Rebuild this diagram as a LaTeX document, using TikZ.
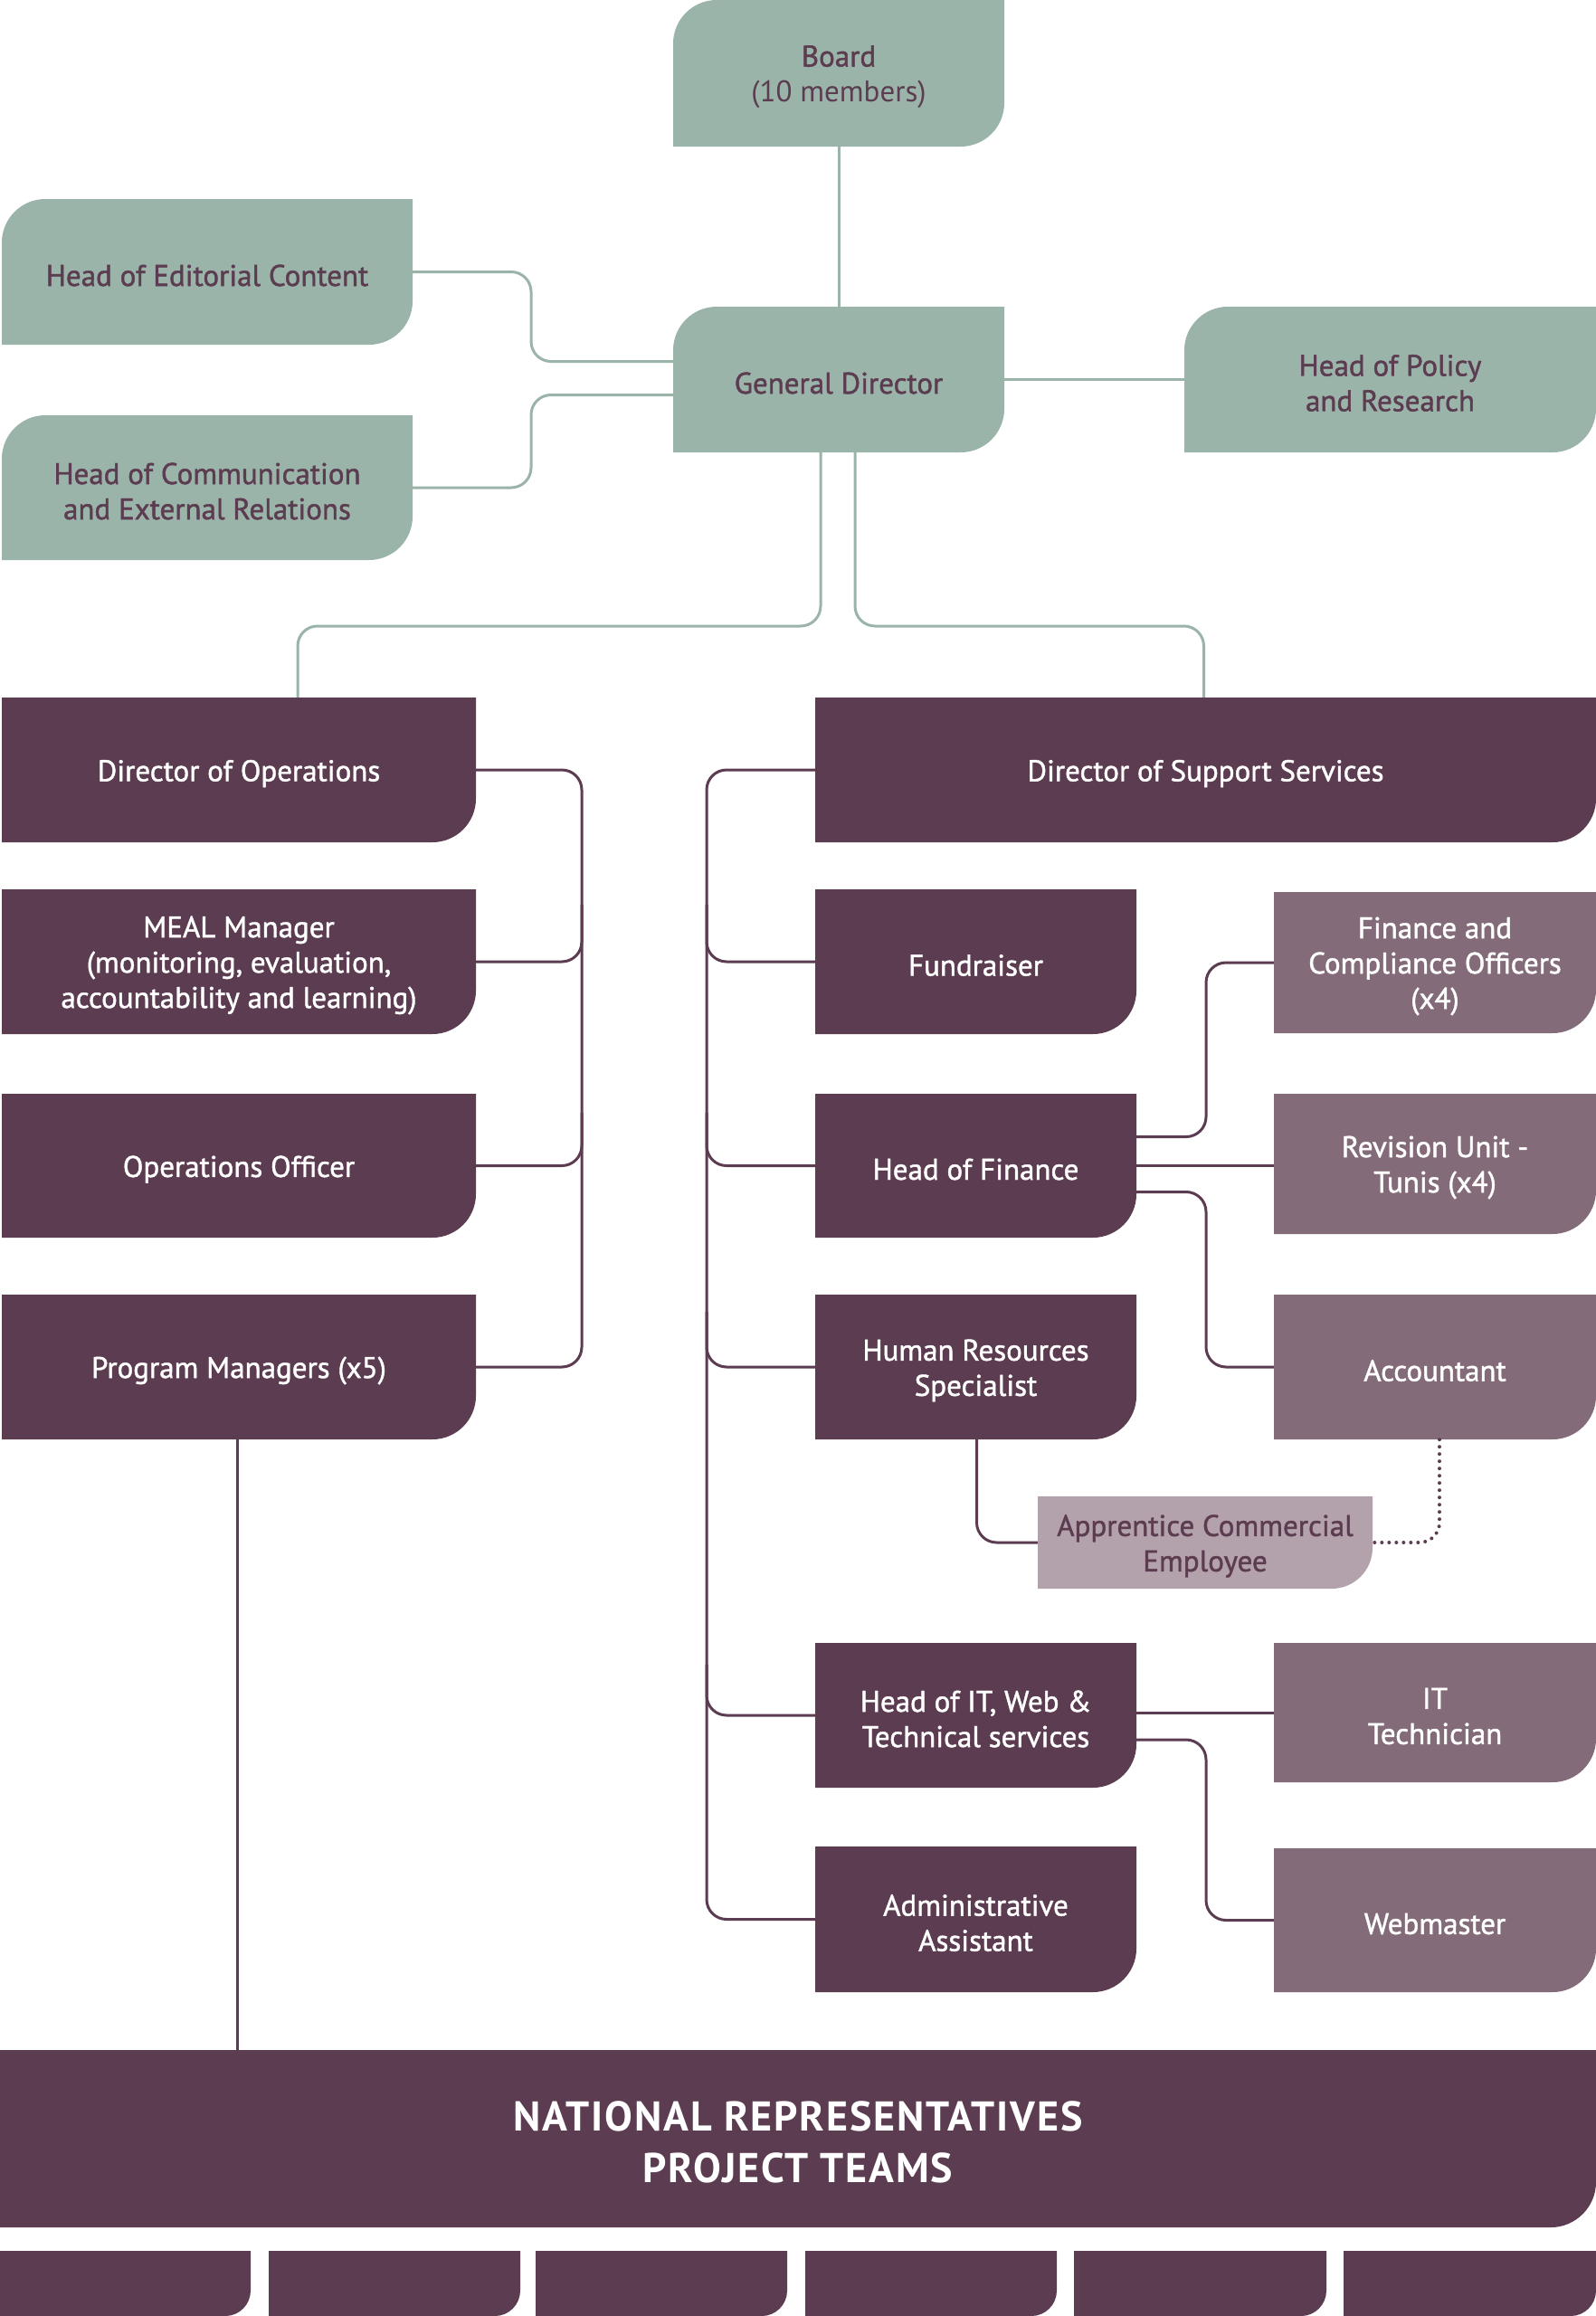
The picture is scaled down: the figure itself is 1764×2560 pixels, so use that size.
\documentclass[tikz,border=0pt]{standalone}
\usepackage{fontspec}
\setmainfont{PT Sans}
\newfontfamily\semib[FakeBold=1.3]{PT Sans}
\newfontfamily\nrfont[LetterSpace=4]{PT Sans Bold}
\usetikzlibrary{calc}
\definecolor{cg}{HTML}{9BB4A9}
\definecolor{cd}{HTML}{5C3C50}
\definecolor{cm}{HTML}{846B79}
\definecolor{cl}{HTML}{B3A1AC}
\tikzset{
  basetxt/.style={inner sep=0pt, align=center, font=\semib\fontsize{33}{39}\selectfont},
  gfill/.style={fill=cg}, gtxt/.style={basetxt, text=cd},
  dfill/.style={fill=cd}, dtxt/.style={basetxt, text=white},
  mfill/.style={fill=cm}, mtxt/.style={basetxt, text=white},
  lfill/.style={fill=cl}, ltxt/.style={basetxt, text=cd},
  nfill/.style={fill=cd}, ntxt/.style={inner sep=0pt, align=center, text=white, font=\nrfont\fontsize{46}{57}\selectfont},
  gline/.style={draw=cg, line width=3pt, rounded corners=22pt},
  pline/.style={draw=cd, line width=3pt, rounded corners=22pt},
  dotline/.style={draw=cd, line width=4pt, line cap=round, dash pattern=on 0pt off 8pt, rounded corners=22pt},
}
% name, x1, y1, x2, y2, radius, style prefix, text
\newcommand\BoxBR[8]{%
  \fill[#7fill] (#2,#3) -- (#4,#3) -- (#4,#5-#6) .. controls (#4,#5-0.45*#6) and (#4-0.45*#6,#5) .. (#4-#6,#5) -- (#2,#5) -- cycle;
  \node[inner sep=0pt, minimum width={#4-#2}, minimum height={#5-#3}] (#1) at ({(#2+#4)/2},{(#3+#5)/2}) {};
  \node[#7txt] (#1-t) at ([yshift=-4pt]#1.center) {#8};}
\newcommand\BoxTL[8]{%
  \fill[#7fill] (#2,#5) -- (#2,#3+#6) .. controls (#2,#3+0.45*#6) and (#2+0.45*#6,#3) .. (#2+#6,#3) -- (#4,#3) -- (#4,#5-#6) .. controls (#4,#5-0.45*#6) and (#4-0.45*#6,#5) .. (#4-#6,#5) -- cycle;
  \node[inner sep=0pt, minimum width={#4-#2}, minimum height={#5-#3}] (#1) at ({(#2+#4)/2},{(#3+#5)/2}) {};
  \node[#7txt] (#1-t) at ([yshift=-4pt]#1.center) {#8};}
\begin{document}
\begin{tikzpicture}[x=1pt,y=-1pt]
\useasboundingbox (0,0) rectangle (1764,2560);
% green boxes
\BoxTL{board}{744}{0}{1110}{162}{48}{g}{Board\\{\normalfont\fontsize{33}{39}\selectfont(10 members)}}
\BoxTL{edit}{2}{220}{456}{381}{48}{g}{Head of Editorial Content}
\BoxTL{gd}{744}{339}{1110}{500}{48}{g}{General Director}
\BoxTL{policy}{1309}{339}{1764}{500}{48}{g}{Head of Policy\\and Research}
\BoxTL{comm}{2}{459}{456}{619}{48}{g}{Head of Communication\\and External Relations}
% dark boxes
\BoxBR{dops}{2}{771}{526}{931}{48}{d}{Director of Operations}
\BoxBR{dss}{901}{771}{1764}{931}{48}{d}{Director of Support Services}
\BoxBR{meal}{2}{983}{526}{1143}{48}{d}{MEAL Manager\\(monitoring, evaluation,\\accountability and learning)}
\BoxBR{fund}{901}{983}{1256}{1143}{48}{d}{Fundraiser}
\BoxBR{oo}{2}{1209}{526}{1368}{48}{d}{Operations Officer}
\BoxBR{hof}{901}{1209}{1256}{1368}{48}{d}{Head of Finance}
\BoxBR{pm}{2}{1431}{526}{1591}{48}{d}{Program Managers (x5)}
\BoxBR{hr}{901}{1431}{1256}{1591}{48}{d}{Human Resources\\Specialist}
\BoxBR{hoit}{901}{1816}{1256}{1976}{48}{d}{Head of IT, Web \&\\Technical services}
\BoxBR{admin}{901}{2041}{1256}{2202}{48}{d}{Administrative\\Assistant}
% medium boxes
\BoxBR{fco}{1408}{986}{1764}{1142}{48}{m}{Finance and\\Compliance Officers\\(x4)}
\BoxBR{rev}{1408}{1209}{1764}{1364}{48}{m}{Revision Unit -\\Tunis (x4)}
\BoxBR{acc}{1408}{1431}{1764}{1591}{48}{m}{Accountant}
\BoxBR{itt}{1408}{1816}{1764}{1970}{48}{m}{IT\\Technician}
\BoxBR{web}{1408}{2043}{1764}{2202}{48}{m}{Webmaster}
% light box
\BoxBR{app}{1147}{1654}{1517}{1756}{45}{l}{Apprentice Commercial\\Employee}
% national representatives
\BoxBR{nr}{0}{2266}{1764}{2462}{50}{n}{NATIONAL REPRESENTATIVES\\PROJECT TEAMS}
\BoxBR{t1}{0}{2488}{277}{2560}{28}{d}{}
\BoxBR{t2}{297}{2488}{575}{2560}{28}{d}{}
\BoxBR{t3}{592}{2488}{870}{2560}{28}{d}{}
\BoxBR{t4}{890}{2488}{1168}{2560}{28}{d}{}
\BoxBR{t5}{1187}{2488}{1466}{2560}{28}{d}{}
\BoxBR{t6}{1485}{2488}{1764}{2560}{28}{d}{}
% green connectors
\draw[gline] (board.south) -- (gd.north);
\draw[gline] (edit.east) -| (587,350) |- ([yshift=20pt]gd.west);
\draw[gline] ([yshift=-17pt]gd.west) -| (587,490) |- (comm.east);
\draw[gline] (gd.east) -- (gd.east -| policy.west);
\draw[gline] ([xshift=-20pt]gd.south) |- (620,692) -| ([xshift=65pt]dops.north);
\draw[gline] ([xshift=18pt]gd.south) |- (1200,692) -| ([xshift=-2pt]dss.north);
% left bracket
\draw[pline] (dops.east) -| (643,1200) |- (pm.east);
\draw[pline] (meal.east) -| (643,1000);
\draw[pline] (oo.east) -| (643,1230);
% right bracket
\draw[pline] (dss.west) -| (781,1500) |- (admin.west);
\draw[pline] (fund.west) -| (781,1000);
\draw[pline] (hof.west) -| (781,1230);
\draw[pline] (hr.west) -| (781,1450);
\draw[pline] (hoit.west) -| (781,1840);
% head of finance
\draw[pline] ([yshift=32pt]hof.east) -| (1333,1150) |- (fco.west);
\draw[pline] (hof.east) -- (hof.east -| rev.west);
\draw[pline] ([yshift=-29pt]hof.east) -| (1333,1400) |- (acc.west);
% HR and apprentice
\draw[pline] ([xshift=1pt]hr.south) |- (app.west);
\draw[dotline] ([xshift=5pt]acc.south) |- (app.east);
% head of IT
\draw[pline] ([yshift=3pt]hoit.east) -- ([yshift=3pt]hoit.east -| itt.west);
\draw[pline] ([yshift=-27pt]hoit.east) -| (1333,2000) |- (web.west);
% program managers to NR
\draw[pline] ([xshift=-2pt]pm.south) -- ([xshift=-2pt]pm.south |- nr.north);
\end{tikzpicture}
\end{document}
